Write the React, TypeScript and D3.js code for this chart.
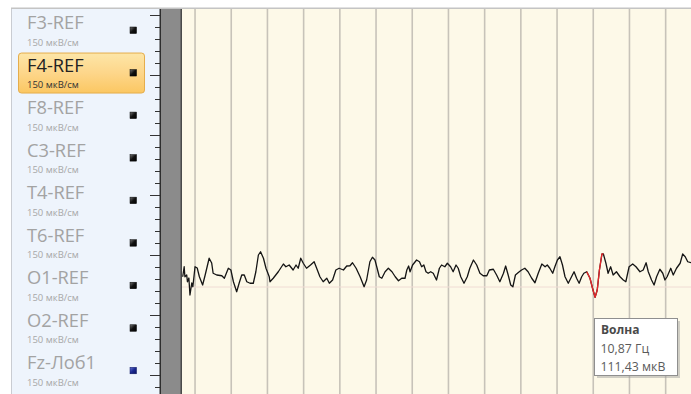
import React from "react";
import * as d3 from "d3";

const channels = ["F3-REF", "F4-REF", "F8-REF", "C3-REF", "T4-REF", "T6-REF", "O1-REF", "O2-REF", "Fz-Лоб1"];
const sensitivities = ["150 мкВ/см", "150 мкВ/см", "150 мкВ/см", "150 мкВ/см", "150 мкВ/см", "150 мкВ/см", "150 мкВ/см", "150 мкВ/см", "150 мкВ/см"];
const selectedChannel = "F4-REF";
const markerKinds = ["black", "black", "black", "black", "black", "black", "black", "black", "blue"];

// waveform (channel O1-REF) : time in ms, amplitude in µV
const timeMs = [
  2, 6, 8, 13, 15, 19, 22, 27, 30, 36, 42, 48, 57, 64, 75, 82, 86, 96, 110, 117,
  128, 135, 142, 151, 158, 165, 172, 179, 188, 197, 204, 211, 217, 225, 232, 241, 243, 252, 266, 280,
  287, 296, 307, 315, 321, 328, 335, 344, 355, 365, 372, 381, 390, 400, 407, 416, 425, 434, 446, 455,
  464, 471, 481, 492, 503, 510, 519, 526, 533, 539, 545, 552, 561, 570, 580, 589, 598, 607, 616, 621,
  626, 630, 637, 648, 656, 662, 668, 674, 680, 687, 694, 703, 711, 717, 726, 733, 742, 749, 757, 763,
  770, 779, 788, 795, 805, 814, 823, 832, 842, 849, 860, 869, 878, 888, 894, 901, 908, 914, 921, 929,
  938, 947, 956, 966, 975, 984, 994, 1003, 1009, 1016, 1024, 1030, 1037, 1044, 1051, 1058, 1067, 1076, 1083, 1090,
  1097, 1104, 1110, 1118, 1127, 1134, 1141, 1147, 1153, 1160, 1164, 1171, 1177, 1184, 1191, 1200, 1210, 1219, 1226, 1235,
  1245, 1254, 1265, 1274, 1282, 1288, 1297, 1304, 1311, 1320, 1328, 1334, 1340, 1350, 1357, 1366, 1376, 1383, 1390, 1397,
  1406,
];
const amplitudeUv = [
  41, 81, 41, 48, 21, 36, -32, 16, 1, 81, 76, 41, 8, 48, 115, 96, 55, 48, 45, 35,
  75, 68, 21, -19, 16, 48, 48, 21, 15, 15, 61, 128, 141, 115, 75, 41, 21, 35, 61, 92,
  81, 88, 68, 88, 75, 115, 95, 75, 88, 101, 75, 41, 21, 35, 15, 28, 68, 75, 68, 84,
  85, 97, 75, 41, 1, 28, 101, 119, 108, 75, 41, 35, 61, 75, 61, 41, 25, 35, 35, 68,
  84, 61, 88, 108, 101, 81, 88, 61, 55, 61, 55, 28, 75, 88, 81, 95, 81, 61, 88, 75,
  41, 15, 41, 75, 108, 88, 55, 45, 45, 68, 71, 48, 21, 55, 84, 48, 8, 1, 48, 58,
  68, 75, 61, 35, 17, 55, 92, 81, 88, 75, 55, 81, 108, 121, 88, 41, 15, 41, 61, 35,
  15, 41, 55, 61, 35, -5, -41, -12, 68, 132, 132, 95, 55, 81, 48, 61, 41, 28, 21, 81,
  92, 81, 61, 68, 97, 61, 28, 8, 41, 71, 55, 28, 41, 75, 48, 75, 95, 132, 121, 101,
  97,
];
const waveStartMs = 1118;
const waveEndMs = 1164;
const gridTimesMs = [36, 136, 236, 336, 436, 536, 636, 736, 836, 936, 1036, 1136, 1236, 1336];
const rulerTickIndex = d3.range(0, 32);
const tooltipTitle = "Волна";
const tooltipLines = ["10,87 Гц", "111,43 мкВ"];

const W = 691;
const H = 394;
const FONT = "'Open Sans', 'Noto Sans', sans-serif";

export default function App() {
  const plotLeft = 182;
  const plotTop = 9;
  const x = d3.scaleLinear().domain([0, 1406]).range([plotLeft, W]);
  const y = d3.scaleLinear().domain([0, 100]).range([287, 262]);
  const row = d3.scaleLinear().domain([0, channels.length - 1]).range([29, 369.3]);
  const ruler = d3.scaleLinear().domain([0, 31]).range([15, 387]);

  const pts: [number, number][] = timeMs.map((t, i) => [t, amplitudeUv[i]]);
  const line = d3
    .line<[number, number]>()
    .x((d) => x(d[0]))
    .y((d) => y(d[1]));
  const redPts = pts.filter((d) => d[0] >= waveStartMs && d[0] <= waveEndMs);

  const tipX = 594;
  const tipY = 318;
  const tipW = 83;
  const tipH = 57;

  return (
    <div style={{ position: "fixed", left: 0, top: 0, width: W, height: H, background: "#fff" }}>
      <svg width={W} height={H} style={{ display: "block" }}>
        <defs>
          <linearGradient id="selGrad" x1="0" y1="0" x2="0" y2="1">
            <stop offset="0" stopColor="#fde6a8" />
            <stop offset="0.5" stopColor="#fdd68a" />
            <stop offset="1" stopColor="#fbc762" />
          </linearGradient>
          <linearGradient id="mkBlack" x1="0" y1="0" x2="1" y2="1">
            <stop offset="0" stopColor="#777" />
            <stop offset="0.5" stopColor="#111" />
            <stop offset="1" stopColor="#000" />
          </linearGradient>
          <linearGradient id="mkBlue" x1="0" y1="0" x2="1" y2="1">
            <stop offset="0" stopColor="#6a78d8" />
            <stop offset="0.5" stopColor="#1a2890" />
            <stop offset="1" stopColor="#0a1260" />
          </linearGradient>
          <clipPath id="plotClip">
            <rect x={plotLeft} y={plotTop} width={W - plotLeft} height={H - plotTop} />
          </clipPath>
        </defs>

        {/* left channel panel */}
        <rect x={11} y={plotTop} width={149} height={H - plotTop} fill="#eef4fc" />
        <line x1={11.5} y1={plotTop} x2={11.5} y2={H} stroke="#c9ccd2" strokeWidth={1} />

        {channels.map((name, i) => {
          const by = row(i);
          const sel = name === selectedChannel;
          return (
            <g key={name}>
              {sel && (
                <rect x={18.5} y={by - 18.5} width={126} height={40} rx={3} fill="url(#selGrad)" stroke="#e5ad4c" strokeWidth={1} />
              )}
              <text x={27} y={by} fontFamily={FONT} fontSize={18.3} fill={sel ? "#222" : "#a3a3a3"}>
                {name}
              </text>
              <text x={27} y={by + 16.5} fontFamily={FONT} fontSize={9.5} fill={sel ? "#333" : "#a8a8a8"}>
                {sensitivities[i]}
              </text>
              <rect
                x={130}
                y={by - 2}
                width={6.5}
                height={6.5}
                fill={markerKinds[i] === "blue" ? "url(#mkBlue)" : "url(#mkBlack)"}
                stroke={markerKinds[i] === "blue" ? "#0a1260" : "#000"}
                strokeWidth={0.5}
              />
            </g>
          );
        })}

        {/* ruler */}
        {rulerTickIndex.map((i) => {
          const ty = Math.round(ruler(i)) + 0.5;
          const long = i % 5 === 0;
          return <line key={i} x1={long ? 150 : 155} x2={160} y1={ty} y2={ty} stroke="#333" strokeWidth={1} />;
        })}
        <rect x={159.5} y={plotTop} width={1.5} height={H - plotTop} fill="#2e2e2e" />
        <rect x={161} y={plotTop} width={20} height={H - plotTop} fill="#8b8b8b" />
        <rect x={180.5} y={plotTop} width={1.5} height={H - plotTop} fill="#4a4a4a" />

        {/* plot area */}
        <rect x={plotLeft} y={plotTop} width={W - plotLeft} height={H - plotTop} fill="#fdf9e8" />
        <g clipPath="url(#plotClip)">
          {gridTimesMs.map((t) => (
            <line key={t} x1={x(t)} x2={x(t)} y1={plotTop} y2={H} stroke="#c7c3b9" strokeWidth={1.6} />
          ))}
          <line x1={plotLeft} x2={W} y1={y(0)} y2={y(0)} stroke="#f0dcd4" strokeWidth={1} />
          <path d={line(pts) ?? ""} fill="none" stroke="#151515" strokeWidth={1.3} strokeLinejoin="round" />
          <path d={line(redPts) ?? ""} fill="none" stroke="#e8262a" strokeWidth={1.3} strokeLinejoin="round" />
        </g>

        {/* top border */}
        <rect x={11} y={7.5} width={W - 11} height={1.5} fill="#c4c4c4" />

        {/* tooltip */}
        <rect x={tipX + 3} y={tipY + 3} width={tipW} height={tipH} fill="#9a9a9a" opacity={0.45} />
        <rect x={tipX + 0.5} y={tipY + 0.5} width={tipW} height={tipH} fill="#fff" stroke="#8f8f8f" strokeWidth={1} />
        <text x={tipX + 7} y={tipY + 16} fontFamily={FONT} fontSize={12} fontWeight="bold" fill="#4a4a4a">
          {tooltipTitle}
        </text>
        {tooltipLines.map((t, i) => (
          <text key={t} x={tipX + 6.5} y={tipY + 35 + i * 18} fontFamily={FONT} fontSize={12.3} fill="#5a5a5a">
            {t}
          </text>
        ))}
      </svg>
    </div>
  );
}
